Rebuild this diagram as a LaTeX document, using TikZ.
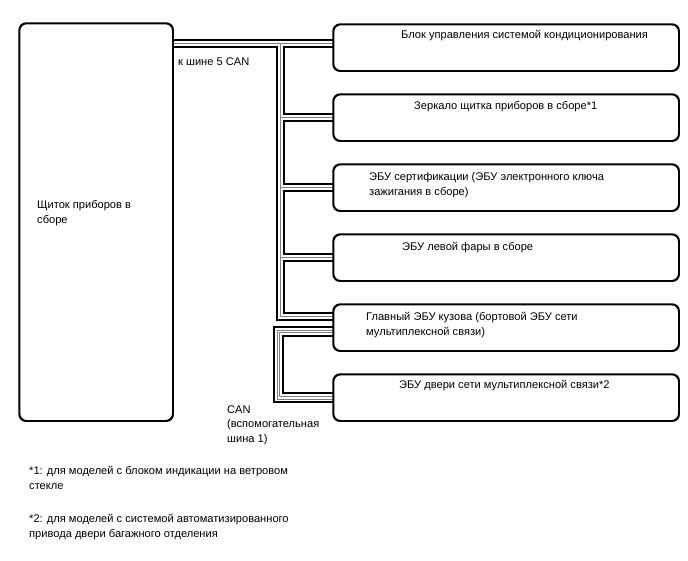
\documentclass[tikz,border=0pt]{standalone}
\usepackage{fontspec}
\setmainfont{Liberation Sans}
\begin{document}
\begin{tikzpicture}[x=1pt,y=-1pt,
  box/.style={draw, line width=1.3pt, rounded corners=7pt, inner sep=0pt, anchor=north west},
  rbox/.style={box, minimum width=345pt, minimum height=46pt},
  txt/.style={inner sep=0pt, anchor=west, align=left, font=\fontsize{11.1}{14.5}\selectfont},
  cblack/.style={line width=9pt, black, line join=miter},
  cwhite/.style={line width=5pt, white, line join=miter},
  cgrey/.style={line width=0.8pt, gray, line join=miter}]
\path[use as bounding box, fill=white] (0,0) rectangle (688,560);

% boxes
\node[box, minimum width=153pt, minimum height=397pt] (ipc) at (19,23) {};
\node[rbox] (b1) at (333,24) {};
\node[rbox] (b2) at (333,94) {};
\node[rbox] (b3) at (333,164) {};
\node[rbox] (b4) at (333,234) {};
\node[rbox] (b5) at (333,304) {};
\node[rbox] (b6) at (333,374) {};

% CAN 5 bus
\coordinate (j0) at (280,43);
\coordinate (j5) at (280,316);
\foreach \s in {cblack,cwhite,cgrey}{
  \draw[\s] (ipc.east |- j0) -- (b1.west |- j0);
  \draw[\s] (j0) -- (j5) -- (b5.west |- j5);
  \draw[\s] (j0 |- b2.west) -- (b2.west);
  \draw[\s] (j0 |- b3.west) -- (b3.west);
  \draw[\s] (j0 |- b4.west) -- (b4.west);
}
% CAN sub-bus 1
\foreach \d/\w/\c in {5/1.2/black, 2/0.8/gray, -0.5/0.8/gray, -4/2.2/black}{
  \draw[line width=\w pt, \c, line join=miter]
    (b5.west |- 0,{332-\d}) -- ({279-\d},{332-\d}) -- ({279-\d},{397+\d}) -- (b6.west |- 0,{397+\d});
}
% redraw box borders over cable ends
\foreach \b in {b1,b2,b3,b4,b5,b6}{
  \draw[line width=1.3pt, rounded corners=7pt] (\b.north west) rectangle (\b.south east);
}
\draw[line width=1.3pt, rounded corners=7pt] (ipc.north west) rectangle (ipc.south east);

% texts
\node[txt] (t1) at (401,36) {Блок управления системой кондиционирования};
\node[txt] (t2) at (414,107) {Зеркало щитка приборов в сборе*1};
\node[txt] (t3) at (369,185) {ЭБУ сертификации (ЭБУ электронного ключа\\зажигания в сборе)};
\node[txt] (t4) at (402,248) {ЭБУ левой фары в сборе};
\node[txt] (t5) at (366,325) {Главный ЭБУ кузова (бортовой ЭБУ сети\\мультиплексной связи)};
\node[txt] (t6) at (399,386) {ЭБУ двери сети мультиплексной связи*2};
\node[txt] (t7) at (37,213) {Щиток приборов в\\сборе};
\node[txt] (t8) at (178,62) {к шине 5 CAN};
\node[txt] (t9) at (227,425) {CAN\\(вспомогательная\\шина 1)};
\node[txt] (t10) at (29,478) {*1: для моделей с блоком индикации на ветровом\\стекле};
\node[txt] (t11) at (29,527) {*2: для моделей с системой автоматизированного\\привода двери багажного отделения};
\end{tikzpicture}
\end{document}
